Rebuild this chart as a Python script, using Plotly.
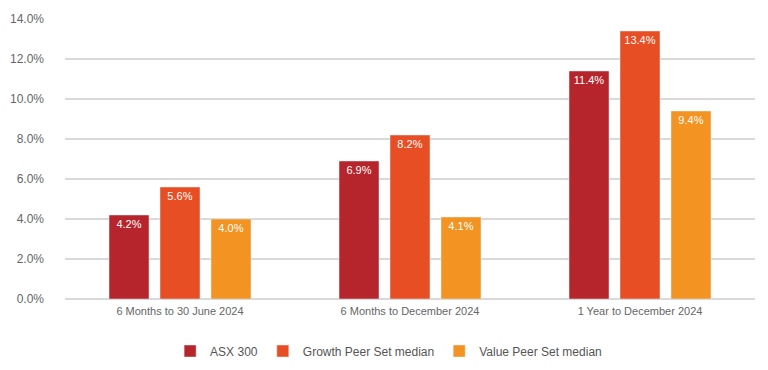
import plotly.graph_objects as go

categories = ["6 Months to 30 June 2024", "6 Months to December 2024", "1 Year to December 2024"]
asx300 = [4.2, 6.9, 11.4]
growth = [5.6, 8.2, 13.4]
value = [4.0, 4.1, 9.4]
series_names = ["ASX 300", "Growth Peer Set median", "Value Peer Set median"]
colors = ["#B5252B", "#E84E24", "#F39321"]
tick_vals = [0, 2, 4, 6, 8, 10, 12, 14]
tick_text = ["0.0%", "2.0%", "4.0%", "6.0%", "8.0%", "10.0%", "12.0%", "14.0%"]

fig = go.Figure()
for name, vals, col in zip(series_names, [asx300, growth, value], colors):
    fig.add_trace(go.Bar(
        x=categories, y=vals, name=name, marker_color=col,
        text=[f"{v:.1f}%" for v in vals], textposition="inside",
        insidetextanchor="end", textangle=0,
        textfont=dict(color="white", size=11, family="Liberation Sans, Arial"),
        cliponaxis=False,
    ))

fig.update_layout(
    width=768, height=370,
    margin=dict(l=57, r=21, t=11, b=79, autoexpand=False),
    plot_bgcolor="white", paper_bgcolor="white",
    barmode="group", bargap=0.335, bargroupgap=0.216,
    font=dict(family="Liberation Sans, Arial", color="#666666", size=12),
    uniformtext=dict(minsize=8, mode="show"),
    legend=dict(orientation="h", x=0.469, xanchor="center", y=-0.134, yanchor="top",
                font=dict(size=12, color="#555555"), itemwidth=30,
                traceorder="normal"),
    showlegend=True,
)
fig.update_yaxes(range=[0, 14], tickvals=tick_vals, ticktext=tick_text,
                 showgrid=True, gridcolor="#D9D9D9", gridwidth=1.5,
                 zeroline=True, zerolinecolor="#D9D9D9", zerolinewidth=1.5,
                 ticks="", ticklabelstandoff=20, automargin=False,
                 tickfont=dict(size=12, color="#666666"))
fig.update_xaxes(showgrid=False, ticks="", automargin=False, ticklabelstandoff=4,
                 tickfont=dict(size=11, color="#666666"))

fig.write_html("out.html")
